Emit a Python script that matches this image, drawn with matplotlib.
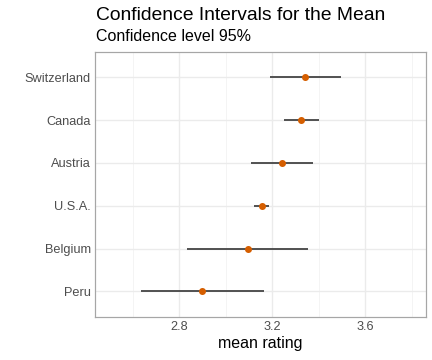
import matplotlib
matplotlib.use("Agg")
import matplotlib.pyplot as plt

countries = ["Peru", "Belgium", "U.S.A.", "Austria", "Canada", "Switzerland"]
means = [2.898, 3.095, 3.154, 3.240, 3.323, 3.342]
lower = [2.634, 2.833, 3.123, 3.108, 3.249, 3.190]
upper = [3.163, 3.355, 3.186, 3.374, 3.399, 3.494]
xticks = [2.8, 3.2, 3.6]
xminor = [2.6, 3.0, 3.4, 3.8]

plt.rcParams['font.family'] = ['Liberation Sans', 'DejaVu Sans']

fig = plt.figure(figsize=(6, 5), dpi=72)
ax = fig.add_axes([95/432, 43/360, 331/432, 265.3/360])

ypos = list(range(1, len(countries) + 1))
ax.hlines(ypos, lower, upper, color="#4d4d4d", linewidth=1.9, zorder=3)
ax.plot(means, ypos, "o", color="#D55E00", markersize=7, markeredgewidth=0, zorder=4)

ax.set_xlim(2.437, 3.861)
ax.set_ylim(0.4, 6.6)
ax.set_yticks(ypos)
ax.set_yticklabels(countries)
ax.set_xticks(xticks)
ax.set_xticklabels([f"{v:.1f}" for v in xticks])
ax.set_xticks(xminor, minor=True)
ax.tick_params(axis="both", which="both", length=0, labelsize=12.8, labelcolor="#4d4d4d", pad=4)
ax.grid(True, which="major", color="#ebebeb", linewidth=1.4, zorder=0)
ax.grid(True, which="minor", axis="x", color="#f2f2f2", linewidth=0.8, zorder=0)
ax.set_axisbelow(True)
for s in ax.spines.values():
    s.set_color("#a6a6a6")
    s.set_linewidth(1.2)

ax.set_xlabel("mean rating", fontsize=16, color="black", labelpad=3)
fig.text(96/432, 1 - 20/360, "Confidence Intervals for the Mean", fontsize=19.2, ha="left", va="baseline")
fig.text(96/432, 1 - 41/360, "Confidence level 95%", fontsize=16, ha="left", va="baseline")

fig.savefig("out.png", dpi=72)
